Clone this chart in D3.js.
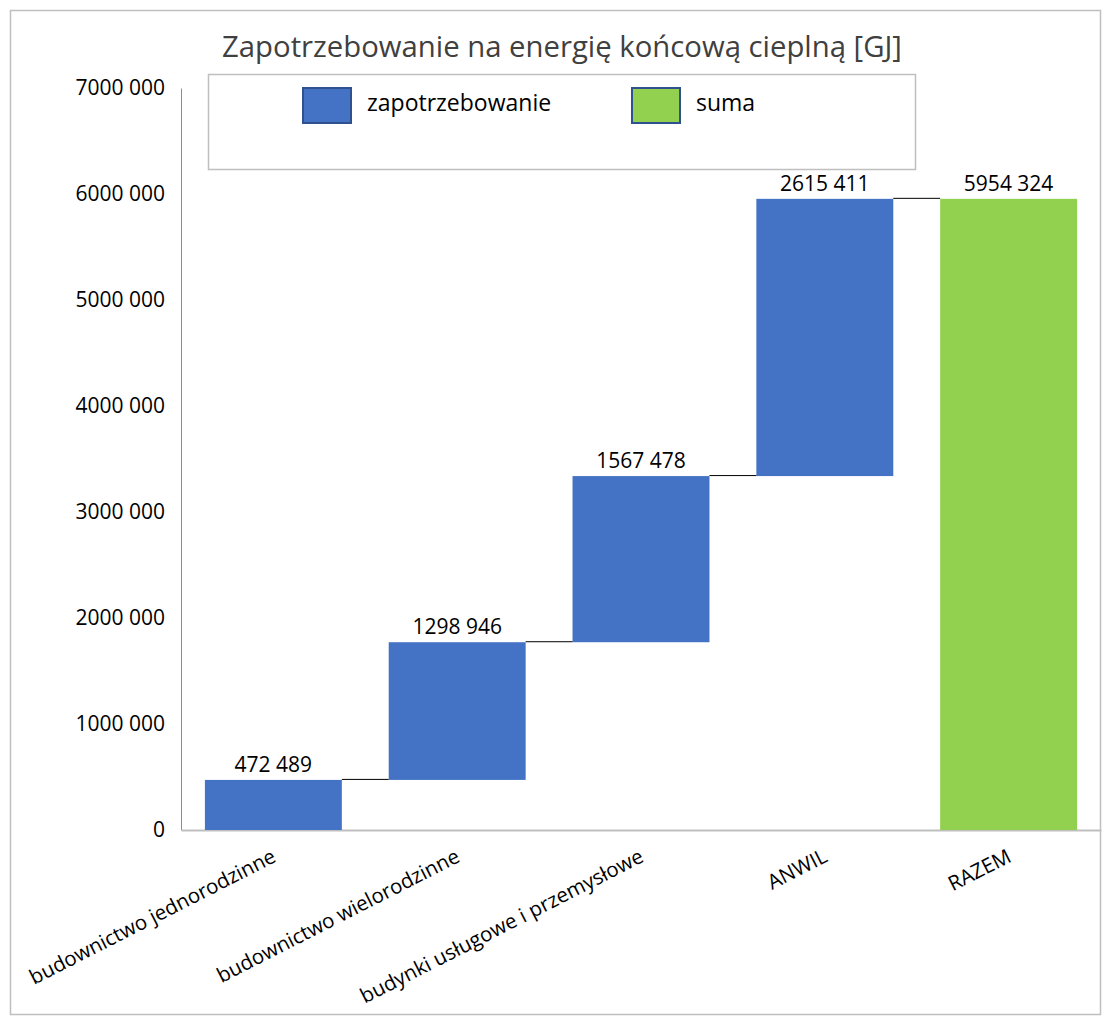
<!DOCTYPE html>
<html>
<head>
<meta charset="utf-8">
<script src="https://cdn.jsdelivr.net/npm/d3@7"></script>
<style>
  html, body { margin: 0; padding: 0; background: #fff; }
  svg { display: block; }
</style>
</head>
<body>
<svg id="chart" width="1103" height="1021"></svg>
<script>
// Heat demand by sector (GJ) – waterfall
const categories = ["budownictwo jednorodzinne", "budownictwo wielorodzinne", "budynki usługowe i przemysłowe", "ANWIL", "RAZEM"];
const demand = [472489, 1298946, 1567478, 2615411];
const total = 5954324;
const yTicks = [0, 1000000, 2000000, 3000000, 4000000, 5000000, 6000000, 7000000];
const legendItems = ["zapotrzebowanie", "suma"];
const title = "Zapotrzebowanie na energię końcową cieplną [GJ]";

const BLUE = "#4472C4", GREEN = "#92D050", EDGE = "#2F528F";
const FONT = "'Open Sans', sans-serif";

const svg = d3.select("#chart");

// outer frame
svg.append("rect").attr("x", 10.5).attr("y", 10.5).attr("width", 1090).attr("height", 1004)
  .attr("fill", "#fff").attr("stroke", "#bfbfbf").attr("stroke-width", 1.5);

const plot = { left: 181, right: 1101, top: 88, bottom: 830 };

const x = d3.scaleBand().domain(categories).range([plot.left, plot.right]).paddingInner(0.255).paddingOuter(0.13);
const y = d3.scaleLinear().domain([0, 7000000]).range([plot.bottom, plot.top]);

// waterfall segments
let run = 0;
const segs = demand.map((v, i) => {
  const s = { cat: categories[i], start: run, end: run + v, value: v, color: BLUE };
  run += v;
  return s;
});
segs.push({ cat: categories[4], start: 0, end: total, value: total, color: GREEN });

// "7000 000" style numbers
const fmt = v => v === 0 ? "0" : d3.format(",")(v).replace(/,/g, " ").replace(/^(\d) (\d{3}) /, "$1$2 ");

// y axis
const yAxis = d3.axisLeft(y).tickValues(yTicks).tickSize(0).tickPadding(16).tickFormat(fmt);
const gy = svg.append("g").attr("transform", `translate(${plot.left},0)`).call(yAxis);
gy.select(".domain").attr("stroke", "#8c8c8c").attr("stroke-width", 1);
gy.selectAll("text").attr("font-family", FONT).attr("font-size", 21).attr("fill", "#000");

// x axis
const xAxis = d3.axisBottom(x).tickSize(0).tickFormat("");
const gx = svg.append("g").attr("transform", `translate(0,${plot.bottom})`).call(xAxis);
gx.select(".domain").attr("stroke", "#bfbfbf").attr("stroke-width", 2);

// rotated category labels
svg.append("g").selectAll("text").data(categories).join("text")
  .attr("transform", d => `translate(${x(d) + x.bandwidth() / 2 + 4},${plot.bottom + 31}) rotate(-27)`)
  .attr("text-anchor", "end")
  .attr("font-family", FONT).attr("font-size", 20.5).attr("fill", "#000")
  .text(d => d);

// bars
svg.append("g").selectAll("rect").data(segs).join("rect")
  .attr("x", d => x(d.cat))
  .attr("width", x.bandwidth())
  .attr("y", d => y(d.end))
  .attr("height", d => y(d.start) - y(d.end))
  .attr("fill", d => d.color);

// connectors between consecutive bars
svg.append("g").selectAll("line").data(segs.slice(0, -1)).join("line")
  .attr("x1", (d) => x(d.cat) + x.bandwidth())
  .attr("x2", (d, i) => x(segs[i + 1].cat))
  .attr("y1", d => y(d.end) - 0.5)
  .attr("y2", d => y(d.end) - 0.5)
  .attr("stroke", "#000").attr("stroke-width", 1);

// value labels
svg.append("g").selectAll("text").data(segs).join("text")
  .attr("x", d => x(d.cat) + x.bandwidth() / 2)
  .attr("y", d => y(d.end) - 8)
  .attr("text-anchor", "middle")
  .attr("font-family", FONT).attr("font-size", 21).attr("fill", "#000")
  .text(d => fmt(d.value));

// title
svg.append("text").attr("x", 562).attr("y", 57).attr("text-anchor", "middle")
  .attr("font-family", FONT).attr("font-size", 29.3).attr("fill", "#404040")
  .text(title);

// legend
const lg = svg.append("g");
lg.append("rect").attr("x", 208.5).attr("y", 74.5).attr("width", 707).attr("height", 95)
  .attr("fill", "#fff").attr("stroke", "#bfbfbf").attr("stroke-width", 1.5);
const lx = [303, 632];
const lc = [BLUE, GREEN];
legendItems.forEach((t, i) => {
  lg.append("rect").attr("x", lx[i]).attr("y", 88).attr("width", 48).attr("height", 35)
    .attr("fill", lc[i]).attr("stroke", EDGE).attr("stroke-width", 2);
  lg.append("text").attr("x", lx[i] + 64).attr("y", 111)
    .attr("font-family", FONT).attr("font-size", 23).attr("fill", "#000").text(t);
});
</script>
</body>
</html>
